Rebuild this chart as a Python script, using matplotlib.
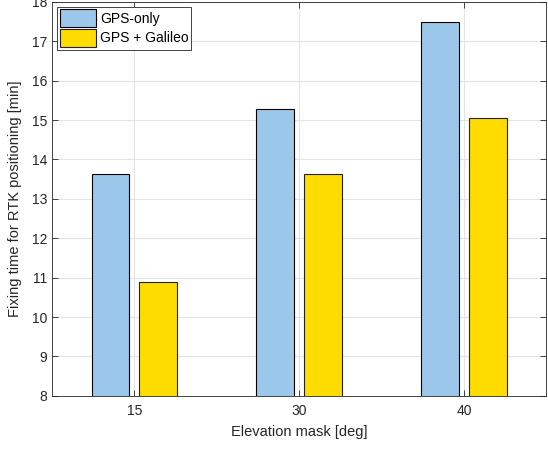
import numpy as np
import matplotlib.pyplot as plt

plt.rcParams['font.family'] = ['Liberation Sans', 'DejaVu Sans']

masks = ['15', '30', '40']
gps_only = [13.62, 15.27, 17.48]
gps_galileo = [10.9, 13.63, 15.05]

fig = plt.figure(figsize=(5.48, 4.54), dpi=100)
ax = fig.add_axes([0.095, 0.128, 0.902, 0.868])

x = np.arange(1, len(masks) + 1)
w = 0.23
off = 0.145
ax.bar(x - off, gps_only, w, bottom=0, color='#9bc7ea', edgecolor='black', linewidth=0.8,
       label='GPS-only', zorder=3)
ax.bar(x + off, gps_galileo, w, color='#ffdc00', edgecolor='#222222', linewidth=0.8,
       label='GPS + Galileo', zorder=3)

ax.set_xlim(0.5, 3.5)
ax.set_ylim(8, 18)
ax.set_xticks(x)
ax.set_xticklabels(masks)
ax.set_yticks(np.arange(8, 19, 1))
ax.grid(True, color='#e3e3e3', linewidth=0.8, zorder=0)
ax.set_axisbelow(True)
ax.tick_params(direction='in', top=True, right=True, labelsize=10, colors='#262626',
               length=4, width=0.6)
ax.tick_params(axis='x', pad=6)
for s in ax.spines.values():
    s.set_color('#262626')
    s.set_linewidth(0.6)

ax.set_xlabel('Elevation mask [deg]', fontsize=10.5, color='#262626', labelpad=5)
ax.set_ylabel('Fixing time for RTK positioning [min]', fontsize=10.5, color='#262626',
              labelpad=7)

leg = ax.legend(loc='upper left', fontsize=10, fancybox=False, edgecolor='#262626',
                handlelength=2.6, handleheight=1.6, borderaxespad=0.35, handletextpad=0.3,
                labelspacing=0.12, borderpad=0.2)
leg.get_frame().set_linewidth(0.6)
leg.get_frame().set_alpha(1)

fig.savefig('out.png', dpi=100)
